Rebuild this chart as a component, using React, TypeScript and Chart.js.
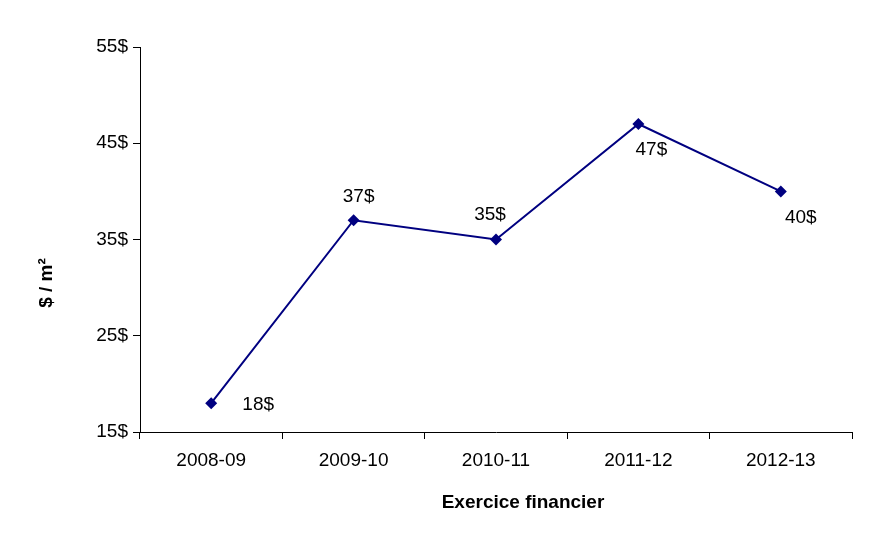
import { useEffect, useRef } from "react";
import { Chart, registerables } from "chart.js";

Chart.register(...registerables);

const categories = ["2008-09", "2009-10", "2010-11", "2011-12", "2012-13"];
const values = [18, 37, 35, 47, 40];
const yMin = 15;
const yMax = 55;
const yStep = 10;
const valueSuffix = "$";
const xTitle = "Exercice financier";
const yTitle = "$ / m²";
// label placement relative to each point (style, not data)
const labelOffsets: [number, number][] = [
  [47, 2],
  [5, -23],
  [-6, -25],
  [13, 26],
  [20, 26],
];

const FONT = "'Liberation Sans', Arial, sans-serif";

const labelsPlugin = {
  id: "customLabels",
  afterDraw(chart: any) {
    const ctx = chart.ctx;
    const meta = chart.getDatasetMeta(0);
    ctx.save();
    ctx.fillStyle = "#000";
    ctx.font = `19px ${FONT}`;
    ctx.textAlign = "center";
    ctx.textBaseline = "middle";
    meta.data.forEach((pt: any, i: number) => {
      const [dx, dy] = labelOffsets[i];
      ctx.fillText(values[i] + valueSuffix, pt.x + dx, pt.y + dy);
    });
    // axis titles
    ctx.font = `bold 19px ${FONT}`;
    ctx.fillText(xTitle, 523, 503);
    ctx.translate(47, 283);
    ctx.rotate(-Math.PI / 2);
    ctx.fillText(yTitle, 0, 0);
    ctx.restore();
  },
};

export default function App() {
  const ref = useRef<HTMLCanvasElement | null>(null);

  useEffect(() => {
    document.body.style.margin = "0";
    const canvas = ref.current;
    if (!canvas) return;
    const chart = new Chart(canvas, {
      type: "line",
      data: {
        labels: categories,
        datasets: [
          {
            data: values,
            borderColor: "#000080",
            backgroundColor: "#000080",
            borderWidth: 2,
            pointStyle: "rectRot",
            pointRadius: 6,
            pointBorderWidth: 0,
            pointBackgroundColor: "#000080",
            tension: 0,
            fill: false,
          },
        ],
      },
      options: {
        responsive: false,
        animation: false,
        devicePixelRatio: 1,
        layout: { padding: { top: 47, right: 28, left: 0, bottom: 0 } },
        plugins: {
          legend: { display: false },
          tooltip: { enabled: false },
          title: { display: false },
        },
        scales: {
          x: {
            type: "category",
            offset: true,
            grid: {
              offset: true,
              drawOnChartArea: false,
              drawTicks: true,
              tickLength: 7,
              color: "#000",
            },
            border: { display: true, color: "#000", width: 1 },
            ticks: {
              color: "#000",
              font: { family: FONT, size: 19 },
              padding: 10,
              maxRotation: 0,
            },
            afterFit: (scale: any) => {
              scale.height = 124;
            },
          },
          y: {
            min: yMin,
            max: yMax,
            grid: {
              drawOnChartArea: false,
              drawTicks: true,
              tickLength: 7,
              color: "#000",
            },
            border: { display: true, color: "#000", width: 1 },
            ticks: {
              stepSize: yStep,
              color: "#000",
              font: { family: FONT, size: 19 },
              padding: 5,
              callback: (v: any) => v + valueSuffix,
            },
            afterFit: (scale: any) => {
              scale.width = 140;
            },
          },
        },
      },
      plugins: [labelsPlugin],
    });
    return () => chart.destroy();
  }, []);

  return (
    <div style={{ position: "absolute", left: 0, top: 0, width: 880, height: 556, background: "#fff" }}>
      <canvas ref={ref} width={880} height={556} style={{ width: 880, height: 556 }} />
    </div>
  );
}
